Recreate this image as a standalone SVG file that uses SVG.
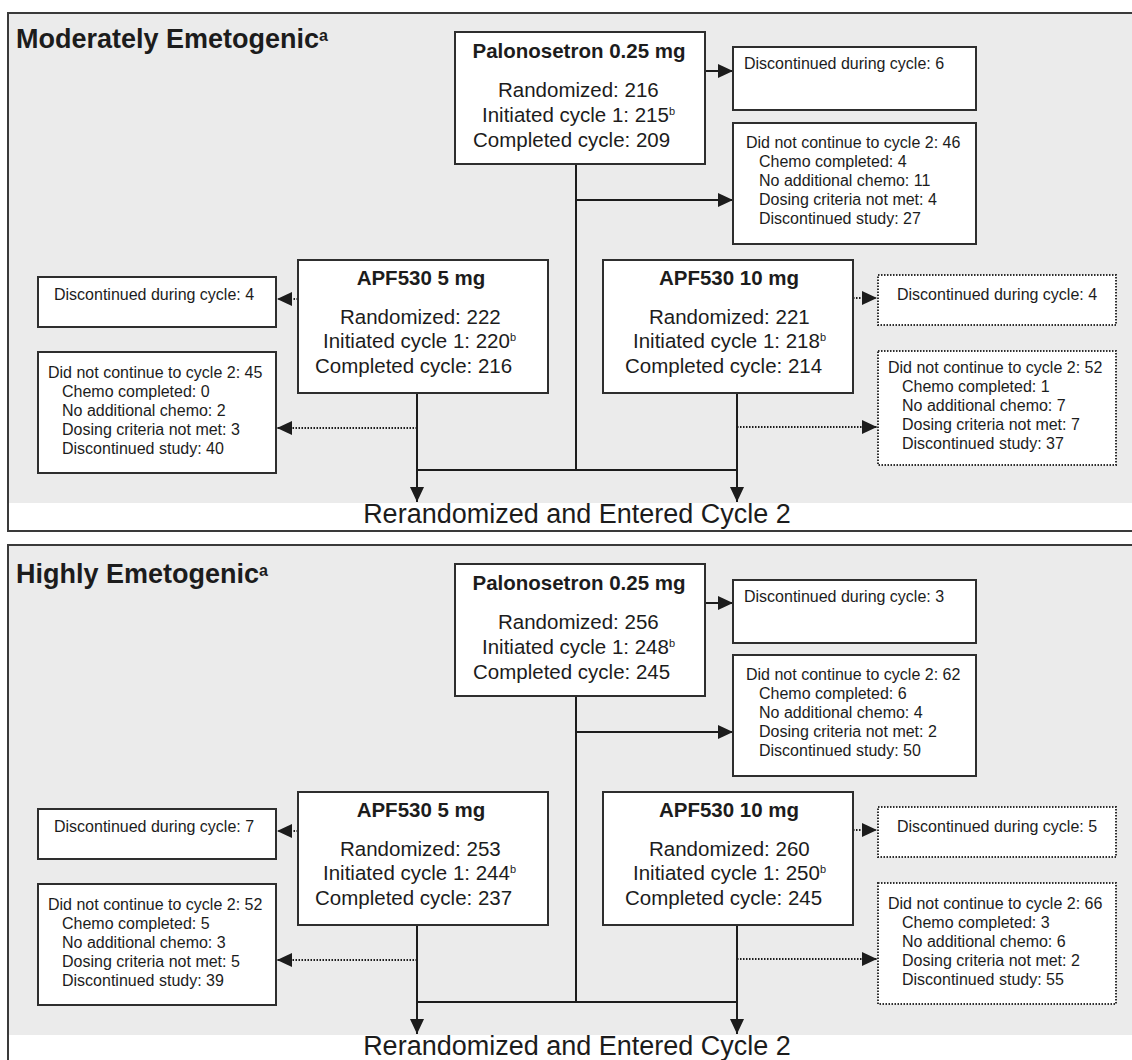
<svg xmlns="http://www.w3.org/2000/svg" width="1132" height="1060" viewBox="0 0 1132 1060">
<defs>
<style>
text{font-family:"Liberation Sans",Arial,sans-serif;fill:#1c1c1c}
.panel{fill:#ffffff;stroke:#3a3a3a;stroke-width:2}
.grey{fill:#ebebeb}
.h1{font-size:27px;font-weight:bold}
.sup1{font-size:16px}
.box{fill:#ffffff;stroke:#2e2e2e;stroke-width:2}
.dbox{fill:#ffffff;stroke:#2e2e2e;stroke-width:2;stroke-dasharray:1.5 1.5}
.bt{font-size:20.5px;font-weight:bold}
.mt{font-size:20.5px}
.sup{font-size:11px}
.st{font-size:16px}
.big{font-size:27px}
.ln{stroke:#1c1c1c;stroke-width:2;fill:none}
.dl{stroke:#1c1c1c;stroke-width:2;fill:none;stroke-dasharray:1.5 1.5}
</style>
<marker id="ah" markerUnits="userSpaceOnUse" markerWidth="16" markerHeight="15" refX="15" refY="7" orient="auto">
<path d="M0,0 L15,7 L0,14 Z" fill="#1c1c1c"/>
</marker>
</defs>

<!-- panels -->
<g id="panel-moderate">
<rect class="panel" x="8" y="13" width="1140" height="518"/>
<rect class="grey" x="9" y="14" width="1138" height="489"/>
<text class="h1" x="16" y="48">Moderately Emetogenic<tspan class="sup1" dy="-7">a</tspan></text>
</g>
<g id="panel-high">
<rect class="panel" x="8" y="545" width="1140" height="530"/>
<rect class="grey" x="9" y="546" width="1138" height="489"/>
<text class="h1" x="16" y="583">Highly Emetogenic<tspan class="sup1" dy="-7">a</tspan></text>
</g>

<!-- connectors -->
<g id="connectors">
<!-- top panel -->
<line class="ln" x1="705" y1="71" x2="733" y2="71" marker-end="url(#ah)"/>
<line class="ln" x1="576" y1="164" x2="576" y2="470"/>
<line class="ln" x1="576" y1="200" x2="733" y2="200" marker-end="url(#ah)"/>
<line class="ln" x1="416" y1="470" x2="738" y2="470"/>
<line class="ln" x1="417" y1="393" x2="417" y2="502" marker-end="url(#ah)"/>
<line class="ln" x1="737" y1="393" x2="737" y2="502" marker-end="url(#ah)"/>
<line class="dl" x1="298" y1="299" x2="277" y2="299" marker-end="url(#ah)"/>
<line class="dl" x1="417" y1="428" x2="277" y2="428" marker-end="url(#ah)"/>
<line class="dl" x1="853" y1="298" x2="877" y2="298" marker-end="url(#ah)"/>
<line class="dl" x1="737" y1="427" x2="877" y2="427" marker-end="url(#ah)"/>
<!-- bottom panel -->
<line class="ln" x1="705" y1="603" x2="733" y2="603" marker-end="url(#ah)"/>
<line class="ln" x1="576" y1="696" x2="576" y2="1002"/>
<line class="ln" x1="576" y1="732" x2="733" y2="732" marker-end="url(#ah)"/>
<line class="ln" x1="416" y1="1002" x2="738" y2="1002"/>
<line class="ln" x1="417" y1="925" x2="417" y2="1034" marker-end="url(#ah)"/>
<line class="ln" x1="737" y1="925" x2="737" y2="1034" marker-end="url(#ah)"/>
<line class="dl" x1="298" y1="831" x2="277" y2="831" marker-end="url(#ah)"/>
<line class="dl" x1="417" y1="960" x2="277" y2="960" marker-end="url(#ah)"/>
<line class="dl" x1="853" y1="830" x2="877" y2="830" marker-end="url(#ah)"/>
<line class="dl" x1="737" y1="959" x2="877" y2="959" marker-end="url(#ah)"/>
</g>

<!-- ===== Moderately emetogenic nodes ===== -->
<g id="m-palo">
<rect class="box" x="455" y="32" width="250" height="132"/>
<text class="bt" x="579" y="58" text-anchor="middle">Palonosetron 0.25 mg</text>
<text class="mt" x="498" y="97">Randomized: 216</text>
<text class="mt" x="482" y="122">Initiated cycle 1: 215<tspan class="sup" dy="-7">b</tspan></text>
<text class="mt" x="473" y="147">Completed cycle: 209</text>
</g>
<g id="m-palo-disc">
<rect class="box" x="733" y="47" width="243" height="63"/>
<text class="st" x="744" y="69">Discontinued during cycle: 6</text>
</g>
<g id="m-palo-dnc">
<rect class="box" x="733" y="123" width="243" height="121"/>
<text class="st" x="746" y="148">Did not continue to cycle 2: 46</text>
<text class="st" x="759" y="167">Chemo completed: 4</text>
<text class="st" x="759" y="186">No additional chemo: 11</text>
<text class="st" x="759" y="205">Dosing criteria not met: 4</text>
<text class="st" x="759" y="224">Discontinued study: 27</text>
</g>
<g id="m-apf5">
<rect class="box" x="298" y="260" width="250" height="133"/>
<text class="bt" x="421" y="285" text-anchor="middle">APF530 5 mg</text>
<text class="mt" x="340" y="324">Randomized: 222</text>
<text class="mt" x="323" y="348">Initiated cycle 1: 220<tspan class="sup" dy="-7">b</tspan></text>
<text class="mt" x="315" y="373">Completed cycle: 216</text>
</g>
<g id="m-apf5-disc">
<rect class="box" x="38" y="277" width="238" height="50"/>
<text class="st" x="54" y="300">Discontinued during cycle: 4</text>
</g>
<g id="m-apf5-dnc">
<rect class="box" x="38" y="352" width="238" height="121"/>
<text class="st" x="48" y="378">Did not continue to cycle 2: 45</text>
<text class="st" x="62" y="397">Chemo completed: 0</text>
<text class="st" x="62" y="416">No additional chemo: 2</text>
<text class="st" x="62" y="435">Dosing criteria not met: 3</text>
<text class="st" x="62" y="454">Discontinued study: 40</text>
</g>
<g id="m-apf10">
<rect class="box" x="603" y="260" width="250" height="133"/>
<text class="bt" x="729" y="285" text-anchor="middle">APF530 10 mg</text>
<text class="mt" x="649" y="324">Randomized: 221</text>
<text class="mt" x="633" y="348">Initiated cycle 1: 218<tspan class="sup" dy="-7">b</tspan></text>
<text class="mt" x="625" y="373">Completed cycle: 214</text>
</g>
<g id="m-apf10-disc">
<rect class="dbox" x="878" y="275" width="238" height="50"/>
<text class="st" x="897" y="300">Discontinued during cycle: 4</text>
</g>
<g id="m-apf10-dnc">
<rect class="dbox" x="878" y="351" width="238" height="114"/>
<text class="st" x="888" y="373">Did not continue to cycle 2: 52</text>
<text class="st" x="902" y="392">Chemo completed: 1</text>
<text class="st" x="902" y="411">No additional chemo: 7</text>
<text class="st" x="902" y="430">Dosing criteria not met: 7</text>
<text class="st" x="902" y="449">Discontinued study: 37</text>
</g>
<g id="m-rerand">
<text class="big" x="577" y="523" text-anchor="middle">Rerandomized and Entered Cycle 2</text>
</g>

<!-- ===== Highly emetogenic nodes ===== -->
<g id="h-palo">
<rect class="box" x="455" y="564" width="250" height="132"/>
<text class="bt" x="579" y="590" text-anchor="middle">Palonosetron 0.25 mg</text>
<text class="mt" x="498" y="629">Randomized: 256</text>
<text class="mt" x="482" y="654">Initiated cycle 1: 248<tspan class="sup" dy="-7">b</tspan></text>
<text class="mt" x="473" y="679">Completed cycle: 245</text>
</g>
<g id="h-palo-disc">
<rect class="box" x="733" y="580" width="243" height="63"/>
<text class="st" x="744" y="602">Discontinued during cycle: 3</text>
</g>
<g id="h-palo-dnc">
<rect class="box" x="733" y="655" width="243" height="121"/>
<text class="st" x="746" y="680">Did not continue to cycle 2: 62</text>
<text class="st" x="759" y="699">Chemo completed: 6</text>
<text class="st" x="759" y="718">No additional chemo: 4</text>
<text class="st" x="759" y="737">Dosing criteria not met: 2</text>
<text class="st" x="759" y="756">Discontinued study: 50</text>
</g>
<g id="h-apf5">
<rect class="box" x="298" y="792" width="250" height="133"/>
<text class="bt" x="421" y="817" text-anchor="middle">APF530 5 mg</text>
<text class="mt" x="340" y="856">Randomized: 253</text>
<text class="mt" x="323" y="880">Initiated cycle 1: 244<tspan class="sup" dy="-7">b</tspan></text>
<text class="mt" x="315" y="905">Completed cycle: 237</text>
</g>
<g id="h-apf5-disc">
<rect class="box" x="38" y="809" width="238" height="50"/>
<text class="st" x="54" y="832">Discontinued during cycle: 7</text>
</g>
<g id="h-apf5-dnc">
<rect class="box" x="38" y="884" width="238" height="121"/>
<text class="st" x="48" y="910">Did not continue to cycle 2: 52</text>
<text class="st" x="62" y="929">Chemo completed: 5</text>
<text class="st" x="62" y="948">No additional chemo: 3</text>
<text class="st" x="62" y="967">Dosing criteria not met: 5</text>
<text class="st" x="62" y="986">Discontinued study: 39</text>
</g>
<g id="h-apf10">
<rect class="box" x="603" y="792" width="250" height="133"/>
<text class="bt" x="729" y="817" text-anchor="middle">APF530 10 mg</text>
<text class="mt" x="649" y="856">Randomized: 260</text>
<text class="mt" x="633" y="880">Initiated cycle 1: 250<tspan class="sup" dy="-7">b</tspan></text>
<text class="mt" x="625" y="905">Completed cycle: 245</text>
</g>
<g id="h-apf10-disc">
<rect class="dbox" x="878" y="807" width="238" height="50"/>
<text class="st" x="897" y="832">Discontinued during cycle: 5</text>
</g>
<g id="h-apf10-dnc">
<rect class="dbox" x="878" y="883" width="238" height="121"/>
<text class="st" x="888" y="909">Did not continue to cycle 2: 66</text>
<text class="st" x="902" y="928">Chemo completed: 3</text>
<text class="st" x="902" y="947">No additional chemo: 6</text>
<text class="st" x="902" y="966">Dosing criteria not met: 2</text>
<text class="st" x="902" y="985">Discontinued study: 55</text>
</g>
<g id="h-rerand">
<text class="big" x="577" y="1055" text-anchor="middle">Rerandomized and Entered Cycle 2</text>
</g>
</svg>
